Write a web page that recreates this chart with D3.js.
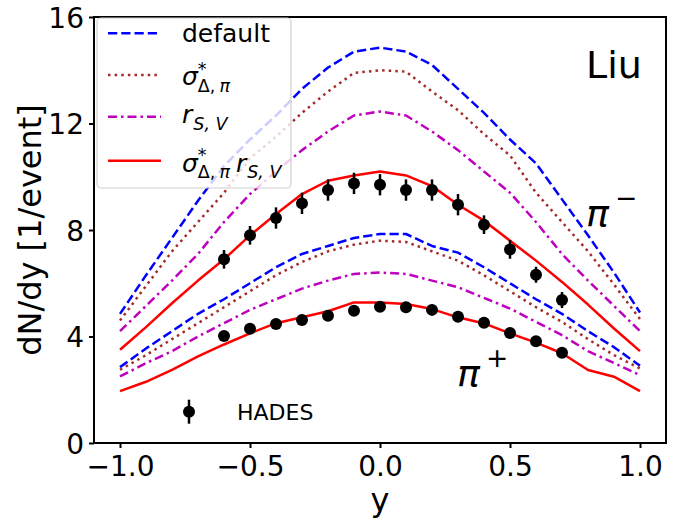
<!DOCTYPE html>
<html>
<head>
<meta charset="utf-8">
<script src="https://cdn.jsdelivr.net/npm/d3@7"></script>
<style>
  html, body { margin: 0; padding: 0; background: #fff; }
  svg { display: block; font-family: "DejaVu Sans", sans-serif; }
</style>
</head>
<body>
<svg id="chart" width="700" height="527"></svg>
<script>
// ---------- data ----------
const rapidity = [-1.0,-0.9,-0.8,-0.7,-0.6,-0.5,-0.4,-0.3,-0.2,-0.1,0.0,0.1,0.2,0.3,0.4,0.5,0.6,0.7,0.8,0.9,1.0];

// pi- model curves
const defaultPiMinus = [4.85,6.3,7.7,9.1,10.4,11.4,12.3,13.3,14.1,14.7,14.85,14.7,14.2,13.3,12.4,11.4,10.5,9.15,7.8,6.4,4.9];
const sigmaPiMinus   = [4.6,5.9,7.2,8.3,9.4,10.7,11.5,12.4,13.2,13.9,14.0,13.95,13.2,12.5,11.6,10.8,9.4,8.3,7.2,5.95,4.65];
const rsvPiMinus     = [4.2,5.15,6.1,7.1,8.3,9.35,10.2,11.0,11.7,12.3,12.45,12.3,11.7,11.0,10.2,9.4,8.3,7.1,6.1,5.15,4.2];
const bothPiMinus    = [3.5,4.35,5.25,6.1,6.9,7.8,8.6,9.35,9.85,10.05,10.2,10.05,9.65,8.95,8.35,7.6,6.85,6.05,5.2,4.3,3.45];

// pi+ model curves
const defaultPiPlus = [2.85,3.55,4.2,4.85,5.4,6.0,6.6,7.1,7.4,7.7,7.85,7.85,7.4,7.15,6.6,6.0,5.4,4.85,4.2,3.6,2.9];
const sigmaPiPlus   = [2.75,3.3,3.9,4.5,5.1,5.7,6.3,6.8,7.2,7.45,7.6,7.55,7.2,6.85,6.3,5.7,5.1,4.55,3.9,3.3,2.8];
const rsvPiPlus     = [2.5,3.0,3.45,4.0,4.5,5.0,5.4,5.8,6.1,6.35,6.4,6.35,6.1,5.85,5.45,5.05,4.55,4.05,3.45,3.0,2.55];
const bothPiPlus    = [1.95,2.3,2.75,3.25,3.7,4.12,4.5,4.72,4.95,5.28,5.28,5.22,5.03,4.72,4.49,4.12,3.77,3.37,2.74,2.49,1.95];

// HADES data
const hadesY = [-0.6,-0.5,-0.4,-0.3,-0.2,-0.1,0.0,0.1,0.2,0.3,0.4,0.5,0.6,0.7];
const hadesPiMinus    = [6.9,7.8,8.45,9.0,9.5,9.75,9.7,9.5,9.5,8.95,8.2,7.27,6.32,5.37];
const hadesPiMinusErr = [0.35,0.35,0.4,0.4,0.4,0.4,0.4,0.4,0.4,0.4,0.35,0.35,0.3,0.3];
const hadesPiPlus     = [4.02,4.29,4.47,4.62,4.78,4.97,5.12,5.10,5.0,4.74,4.52,4.13,3.82,3.39];
const hadesPiPlusErr  = [0.15,0.15,0.15,0.2,0.2,0.2,0.2,0.2,0.2,0.2,0.15,0.15,0.15,0.15];

const xTicks = [-1.0,-0.5,0.0,0.5,1.0];
const yTicks = [0,4,8,12,16];

// ---------- layout ----------
const svg = d3.select("#chart");
const L = 94, R = 666, T = 17, B = 443;
const x = d3.scaleLinear().domain([-1.1, 1.1]).range([L, R]);
const y = d3.scaleLinear().domain([0, 16]).range([B, T]);

const LW = 2.5;
const styles = {
  default: {color: "#0000ff", dash: `${3.7*LW},${1.6*LW}`},
  sigma:   {color: "#a52a2a", dash: `${1*LW},${1.65*LW}`},
  rsv:     {color: "#bf00bf", dash: `9,4,2.5,4`},
  both:    {color: "#ff0000", dash: null}
};

const line = d3.line().x((d) => x(d[0])).y((d) => y(d[1]));
const curves = [
  ["default", defaultPiMinus], ["sigma", sigmaPiMinus], ["rsv", rsvPiMinus], ["both", bothPiMinus],
  ["default", defaultPiPlus], ["sigma", sigmaPiPlus], ["rsv", rsvPiPlus], ["both", bothPiPlus]
];
const gCurves = svg.append("g");
curves.forEach(([k, vals]) => {
  const st = styles[k];
  gCurves.append("path")
    .attr("d", line(rapidity.map((r, i) => [r, vals[i]])))
    .attr("fill", "none")
    .attr("stroke", st.color)
    .attr("stroke-width", LW)
    .attr("stroke-dasharray", st.dash)
    .attr("stroke-linejoin", "round");
});

// HADES data
function drawData(vals, errs) {
  const g = svg.append("g");
  hadesY.forEach((r, i) => {
    g.append("line")
      .attr("x1", x(r)).attr("x2", x(r))
      .attr("y1", y(vals[i] - errs[i])).attr("y2", y(vals[i] + errs[i]))
      .attr("stroke", "#000").attr("stroke-width", 2.5);
    g.append("circle")
      .attr("cx", x(r)).attr("cy", y(vals[i])).attr("r", 6).attr("fill", "#000");
  });
}
drawData(hadesPiMinus, hadesPiMinusErr);
drawData(hadesPiPlus, hadesPiPlusErr);

// ---------- axes ----------
const xAxis = d3.axisBottom(x).tickValues(xTicks).tickFormat(d3.format(".1f")).tickSizeInner(5).tickSizeOuter(0).tickPadding(6);
const yAxis = d3.axisLeft(y).tickValues(yTicks).tickFormat(d3.format("d")).tickSizeInner(5).tickSizeOuter(0).tickPadding(5);

const gx = svg.append("g").attr("transform", `translate(0,${B})`).call(xAxis);
const gy = svg.append("g").attr("transform", `translate(${L},0)`).call(yAxis);
[gx, gy].forEach(g => {
  g.select(".domain").remove();
  g.selectAll(".tick line").attr("stroke", "#000").attr("stroke-width", 2);
  g.selectAll(".tick text").attr("fill", "#000").style("font-size", "28px").style("font-family", "DejaVu Sans");
});
gx.selectAll(".tick text").attr("dy", null).attr("y", 33);
gy.selectAll(".tick text").attr("dy", "0.36em");

svg.append("rect").attr("x", L).attr("y", T).attr("width", R - L).attr("height", B - T)
  .attr("fill", "none").attr("stroke", "#000").attr("stroke-width", 2);

svg.append("text").attr("x", 380).attr("y", 511).attr("text-anchor", "middle")
  .style("font-size", "32px").text("y");
svg.append("text").attr("transform", "translate(41,230) rotate(-90)").attr("text-anchor", "middle")
  .style("font-size", "32px").text("dN/dy [1/event]");

// ---------- math-like text helper ----------
function mathText(g, x0, base, parts, size) {
  let cx = x0, lastStart = x0;
  parts.forEach(p => {
    const fs = p.pos === "base" ? size : size * 0.7;
    const dy = p.pos === "sup" ? -(p.raise != null ? p.raise : 0.42) * size : p.pos === "sub" ? (p.drop != null ? p.drop : 0.27) * size : 0;
    const sx = p.stack ? lastStart : cx;
    const t = g.append("text").attr("x", sx).attr("y", base + dy)
      .style("font-size", fs + "px")
      .style("font-style", p.italic ? "italic" : "normal")
      .text(p.t);
    const w = t.node().getComputedTextLength();
    if (p.stack) {
      cx = Math.max(cx, sx + w);
    } else {
      lastStart = sx; cx = sx + w;
    }
    if (p.gap) cx += p.gap;
  });
  return cx;
}

// ---------- legend ----------
const gLeg = svg.append("g");
gLeg.append("rect").attr("x", 97).attr("y", 18).attr("width", 194).attr("height", 170).attr("rx", 4)
  .attr("fill", "#fff").attr("fill-opacity", 0.8).attr("stroke", "#d0d0d0").attr("stroke-width", 1.2);

const legRows = [
  {k: "default", y: 33.3, base: 8.5},
  {k: "sigma", y: 75, base: 10},
  {k: "rsv", y: 116.7, base: 6.5},
  {k: "both", y: 160.7, base: 11}
];
legRows.forEach(row => {
  const st = styles[row.k];
  gLeg.append("line").attr("x1", 108).attr("x2", 161).attr("y1", row.y).attr("y2", row.y)
    .attr("stroke", st.color).attr("stroke-width", LW).attr("stroke-dasharray", st.dash);
  const base = row.y + row.base;
  const tx = 182;
  if (row.k === "default") {
    gLeg.append("text").attr("x", tx).attr("y", base).style("font-size", "25px").text("default");
  } else if (row.k === "sigma") {
    const g = gLeg.append("g");
    let cx = mathText(g, tx, base, [
      {t: "σ", pos: "base", italic: true},
      {t: "*", pos: "sup", raise: 0.42},
      {t: "Δ,", pos: "sub", stack: true, drop: 0.27}
    ], 25);
    mathText(g, cx + 4, base, [{t: "π", pos: "sub", italic: true, drop: 0.27}], 25);
  } else if (row.k === "rsv") {
    const g = gLeg.append("g");
    mathText(g, tx, base, [
      {t: "r", pos: "base", italic: true, gap: 1},
      {t: "S, V", pos: "sub", italic: true, drop: 0.27}
    ], 25);
  } else {
    const g = gLeg.append("g");
    let cx = mathText(g, tx, base, [
      {t: "σ", pos: "base", italic: true},
      {t: "*", pos: "sup", raise: 0.42},
      {t: "Δ,", pos: "sub", stack: true, drop: 0.27}
    ], 25);
    cx = mathText(g, cx + 4, base, [{t: "π", pos: "sub", italic: true, drop: 0.27}], 25);
    mathText(g, cx + 6, base, [
      {t: "r", pos: "base", italic: true, gap: 1},
      {t: "S, V", pos: "sub", italic: true, drop: 0.27}
    ], 25);
  }
});

// HADES legend
const hx = 189, hy = 411.7;
svg.append("line").attr("x1", hx).attr("x2", hx).attr("y1", hy - 12).attr("y2", hy + 12)
  .attr("stroke", "#000").attr("stroke-width", 2.5);
svg.append("circle").attr("cx", hx).attr("cy", hy).attr("r", 6).attr("fill", "#000");
svg.append("text").attr("x", 237).attr("y", 420).style("font-size", "22px").text("HADES");

// annotations
svg.append("text").attr("x", 586).attr("y", 78).style("font-size", "38px").text("Liu");
const gm = svg.append("g");
mathText(gm, 586, 226, [{t: "π", pos: "base", italic: true, gap: 6}, {t: "−", pos: "sup", raise: 0.5}], 38);
const gp = svg.append("g");
mathText(gp, 457, 386, [{t: "π", pos: "base", italic: true, gap: 6}, {t: "+", pos: "sup", raise: 0.5}], 38);
</script>
</body>
</html>
